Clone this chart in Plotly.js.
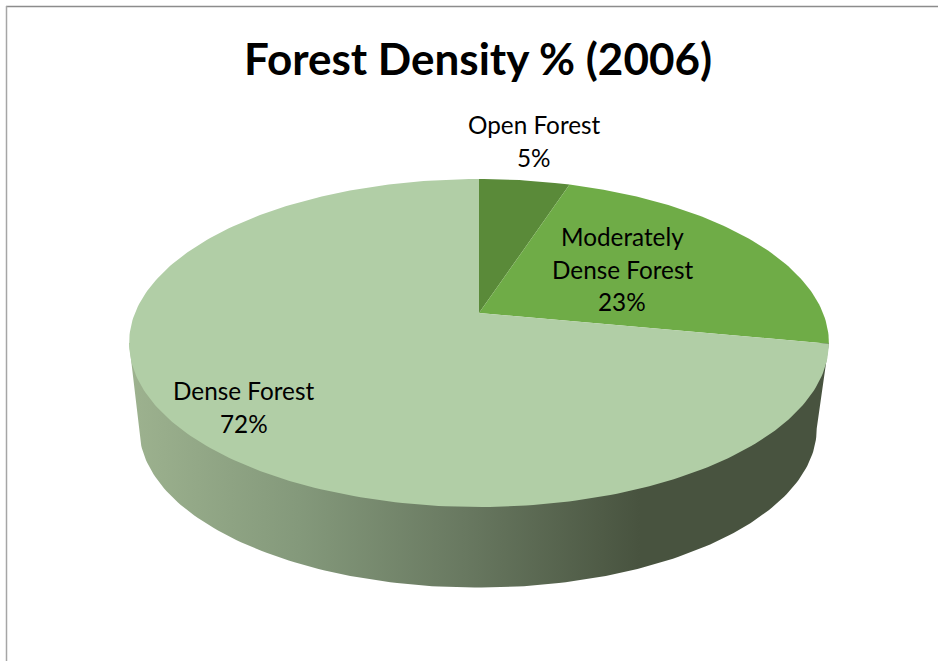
<!DOCTYPE html>
<html>
<head>
<meta charset="utf-8">
<script src="https://cdn.plot.ly/plotly-3.0.1.min.js"></script>
<style>html,body{margin:0;padding:0;background:#fff}#chart{width:938px;height:661px}</style>
</head>
<body>
<div id="chart"></div>
<script>
// Forest density shares, in drawing order clockwise from twelve o'clock
const categories = ['Open Forest', 'Moderately Dense Forest', 'Dense Forest'];
const shares = [5, 23, 72];
const sliceColors = ['#5a8a39', '#6fac47', '#b1cea6'];
const labelLines = [['Open Forest'], ['Moderately', 'Dense Forest'], ['Dense Forest']];
const chartTitle = 'Forest Density % (2006)';

// Perspective disc: top face and the smaller bottom face seen from above
const tilt = 0.183;
const topFace = {cx: 479, cy: 313, a: 344, b: 158.5};
const bottomFace = {cx: 478, cy: 399.5, a: 333, b: 153.7};

function project(face, deg) {
  const t = deg * Math.PI / 180;
  const u = Math.sin(t), v = Math.cos(t), w = 1 + tilt * v;
  return [face.cx + face.a * u / w, face.cy - face.b * v / w];
}
function arc(face, from, to) {
  const pts = [], n = Math.max(2, Math.ceil(Math.abs(to - from)));
  for (let i = 0; i <= n; i++) pts.push(project(face, from + (to - from) * i / n));
  return pts;
}

const traces = [];

// Outer wall, shaded from left to right
const edge = Math.acos(-tilt) * 180 / Math.PI;
const wall = [project(topFace, 360 - edge)].concat(arc(bottomFace, 360 - edge, edge));
wall.push(project(topFace, edge));
traces.push({
  type: 'scatter', mode: 'lines', hoverinfo: 'skip', showlegend: false,
  x: wall.map(p => p[0]), y: wall.map(p => p[1]),
  fill: 'toself', line: {width: 0},
  fillgradient: {
    type: 'horizontal', start: 130, stop: 640,
    colorscale: [[0, '#9db28f'], [0.33, '#84997b'], [0.66, '#687860'], [1, '#48533f']]
  }
});

// Top face slices, swept from the share values
const total = shares.reduce((s, v) => s + v, 0);
let sweep = 0;
shares.forEach((value, i) => {
  const start = sweep;
  sweep += value / total * 360;
  const rim = arc(topFace, start, sweep);
  const poly = [[topFace.cx, topFace.cy]].concat(rim, [[topFace.cx, topFace.cy]]);
  traces.push({
    type: 'scatter', mode: 'lines', showlegend: false, name: categories[i],
    text: categories[i] + ': ' + value + '%', hoverinfo: 'text',
    x: poly.map(p => p[0]), y: poly.map(p => p[1]),
    fill: 'toself', fillcolor: sliceColors[i], line: {width: 0}
  });
});

// Slice labels: name lines followed by the share
const labelFont = {family: 'Lato, sans-serif', size: 24.3, color: '#000'};
const labelAnchors = [{x: 534, y: 124.5}, {x: 622, y: 236.5}, {x: 243.5, y: 390.5}];
const lineStep = 32.7;
const annotations = [];
labelLines.forEach((lines, i) => {
  lines.concat([shares[i] + '%']).forEach((line, j) => {
    annotations.push({
      xref: 'x', yref: 'y', x: labelAnchors[i].x, y: labelAnchors[i].y + j * lineStep,
      text: line, showarrow: false, xanchor: 'center', yanchor: 'middle', font: labelFont
    });
  });
});
annotations.push({
  xref: 'x', yref: 'y', x: 478, y: 58, text: '<b>' + chartTitle + '</b>', showarrow: false,
  xanchor: 'center', yanchor: 'middle',
  font: {family: 'Lato, sans-serif', size: 44, color: '#000'}
});

Plotly.newPlot('chart', traces, {
  width: 938, height: 661,
  margin: {l: 0, r: 0, t: 0, b: 0},
  paper_bgcolor: '#fff', plot_bgcolor: '#fff',
  showlegend: false, hovermode: 'closest',
  xaxis: {range: [0, 938], visible: false, fixedrange: true},
  yaxis: {range: [661, 0], visible: false, fixedrange: true},
  annotations: annotations,
  // Chart-area frame along the top and left
  shapes: [
    {type: 'line', xref: 'x', yref: 'y', x0: 6, x1: 938, y0: 6.5, y1: 6.5, line: {color: '#8c8c8c', width: 1.5}},
    {type: 'line', xref: 'x', yref: 'y', x0: 6.5, x1: 6.5, y0: 6, y1: 661, line: {color: '#a6a6a6', width: 1.5}}
  ]
}, {displayModeBar: false, responsive: false});
</script>
</body>
</html>
